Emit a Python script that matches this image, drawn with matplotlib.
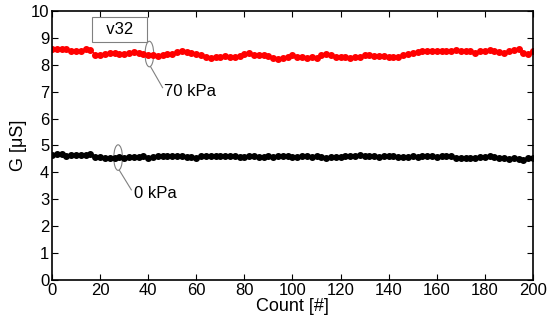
import numpy as np
import matplotlib.pyplot as plt
from matplotlib.patches import Ellipse

plt.rcParams['font.family'] = ['Liberation Sans', 'DejaVu Sans']

# count axis, one sample every 2 counts
count = np.arange(0, 201, 2)

# conductance at 70 kPa
g_70 = [8.58, 8.60, 8.60, 8.58, 8.50, 8.50, 8.52, 8.58, 8.56,
        8.38, 8.35, 8.40, 8.45, 8.45, 8.40, 8.42, 8.45, 8.47, 8.45, 8.42, 8.38,
        8.35, 8.32, 8.38, 8.40, 8.40,
        8.46, 8.50, 8.48, 8.45, 8.42,
        8.35, 8.30, 8.25, 8.28, 8.30,
        8.33, 8.30, 8.28, 8.32, 8.40,
        8.43, 8.38, 8.38, 8.35, 8.33,
        8.25, 8.22, 8.25, 8.30, 8.35,
        8.30, 8.28, 8.27, 8.30, 8.27,
        8.35, 8.40, 8.35, 8.30, 8.28,
        8.30, 8.25, 8.30, 8.28, 8.38,
        8.35, 8.32, 8.32, 8.32, 8.30,
        8.28, 8.30, 8.35, 8.40, 8.45,
        8.48, 8.50, 8.50, 8.52, 8.52,
        8.50, 8.50, 8.50, 8.55, 8.52,
        8.50, 8.50, 8.45, 8.50, 8.52,
        8.55, 8.50, 8.48, 8.45, 8.50,
        8.55, 8.60, 8.45, 8.42, 8.50]

# conductance at 0 kPa
g_0 = [4.65, 4.68, 4.67, 4.62, 4.65, 4.65, 4.65, 4.66, 4.68,
       4.58, 4.56, 4.55, 4.54, 4.55, 4.56, 4.55, 4.57, 4.58, 4.56, 4.60, 4.55,
       4.58, 4.60, 4.62, 4.60, 4.60,
       4.62, 4.60, 4.58, 4.58, 4.55,
       4.60, 4.62, 4.60, 4.60, 4.62,
       4.60, 4.62, 4.60, 4.58, 4.57,
       4.62, 4.60, 4.58, 4.58, 4.60,
       4.58, 4.60, 4.62, 4.60, 4.58,
       4.58, 4.60, 4.60, 4.58, 4.60,
       4.58, 4.55, 4.56, 4.57, 4.58,
       4.60, 4.62, 4.60, 4.65, 4.60,
       4.62, 4.60, 4.58, 4.60, 4.62,
       4.60, 4.58, 4.56, 4.58, 4.60,
       4.58, 4.60, 4.62, 4.60, 4.58,
       4.60, 4.62, 4.60, 4.55, 4.55,
       4.52, 4.55, 4.55, 4.56, 4.58,
       4.60, 4.58, 4.55, 4.55, 4.50,
       4.55, 4.50, 4.45, 4.55, 4.55]

fig = plt.figure(figsize=(5.5, 3.24), dpi=100)
ax = fig.add_axes([0.0945, 0.136, 0.8745, 0.830])

ax.plot(count, g_70, 'o-', color='red', markersize=4, linewidth=1)
ax.plot(count, g_0, 'o-', color='black', markersize=4, linewidth=1)

ax.set_xlim(0, 200)
ax.set_ylim(0, 10)
ax.set_xticks(np.arange(0, 201, 20))
ax.set_yticks(np.arange(0, 11, 1))
ax.tick_params(direction='in', top=True, right=True, labelsize=12, length=4, pad=2)
for s in ax.spines.values():
    s.set_linewidth(1.2)

ax.set_xlabel('Count [#]', fontsize=13, labelpad=0)
ax.set_ylabel('G [\u03bcS]', fontsize=13, va='center')
ax.yaxis.set_label_coords(-0.07, 0.5)

# ellipse callouts
ax.add_patch(Ellipse((40.5, 8.4), 3.6, 0.95, fill=False, edgecolor='gray', linewidth=0.8))
ax.plot([41, 46], [7.93, 7.15], color='gray', linewidth=0.8)
ax.text(46.5, 7.0, '70 kPa', fontsize=12, va='center')

ax.add_patch(Ellipse((27.5, 4.55), 3.6, 0.95, fill=False, edgecolor='gray', linewidth=0.8))
ax.plot([28, 33], [4.08, 3.35], color='gray', linewidth=0.8)
ax.text(34, 3.2, '0 kPa', fontsize=12, va='center')

ax.text(28, 9.33, '  v32  ', fontsize=12, ha='center', va='center',
        bbox=dict(boxstyle='square,pad=0.3', facecolor='white', edgecolor='gray', linewidth=0.8))

fig.savefig('out.png', dpi=100)
